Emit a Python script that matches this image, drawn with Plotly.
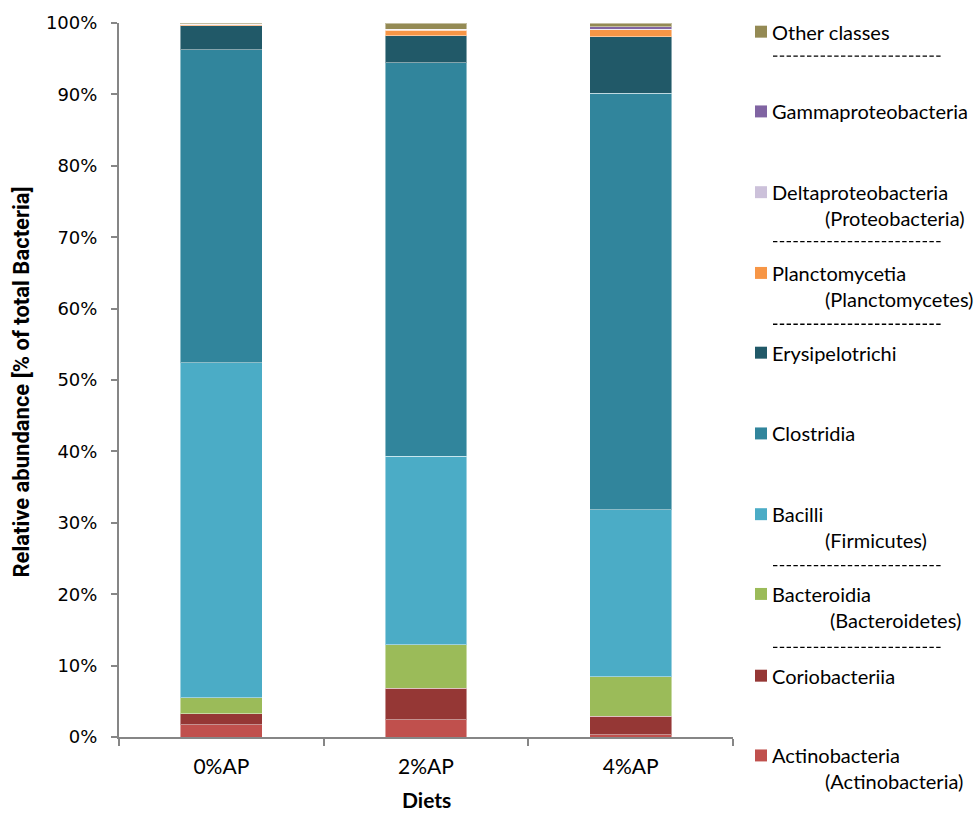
import plotly.graph_objects as go

# Diet groups on the x axis
diets = ["0%AP", "2%AP", "4%AP"]

# Relative abundance (% of total Bacteria) per class, stacked bottom to top
actinobacteria = [1.75, 2.44, 0.35]
coriobacteriia = [1.53, 4.37, 2.55]
bacteroidia = [2.19, 6.11, 5.55]
bacilli = [46.96, 26.43, 23.35]
clostridia = [43.84, 55.10, 58.33]
erysipelotrichi = [3.33, 3.75, 7.97]
planctomycetia = [0.15, 0.80, 0.95]
deltaproteobacteria = [0.05, 0.10, 0.05]
gammaproteobacteria = [0.05, 0.00, 0.35]
other_classes = [0.15, 0.90, 0.55]

y_ticks = [0, 10, 20, 30, 40, 50, 60, 70, 80, 90, 100]
y_tick_labels = [f"{v}%" for v in y_ticks]

series = [
    ("Actinobacteria", actinobacteria, "#C0504D"),
    ("Coriobacteriia", coriobacteriia, "#953735"),
    ("Bacteroidia", bacteroidia, "#9BBB59"),
    ("Bacilli", bacilli, "#4BACC6"),
    ("Clostridia", clostridia, "#31859C"),
    ("Erysipelotrichi", erysipelotrichi, "#215968"),
    ("Planctomycetia", planctomycetia, "#F79646"),
    ("Deltaproteobacteria", deltaproteobacteria, "#CCC1DA"),
    ("Gammaproteobacteria", gammaproteobacteria, "#8064A2"),
    ("Other classes", other_classes, "#948A54"),
]
colors = {name: c for name, _, c in series}

fig = go.Figure()
for name, vals, color in series:
    fig.add_trace(go.Bar(
        x=diets, y=vals, name=name, width=0.4,
        marker=dict(color=color, line=dict(color="rgba(255,255,255,0.45)", width=1)),
        showlegend=False,
    ))

# Plot area in pixels
W, H = 976, 814
L, R, T, B = 119, 733, 21.3, 737.5


def px(x, y):
    return (x - L) / (R - L), (B - y) / (B - T)


body_font = "Lato, 'Open Sans', sans-serif"
legend_size = 20

annotations = []
shapes = []

# Legend entries: (label, sublabel, row y, sublabel x)
legend_rows = [
    ("Other classes", None, 30, None),
    ("Gammaproteobacteria", None, 110, None),
    ("Deltaproteobacteria", "(Proteobacteria)", 191, 825),
    ("Planctomycetia", "(Planctomycetes)", 272, 825),
    ("Erysipelotrichi", None, 352, None),
    ("Clostridia", None, 433, None),
    ("Bacilli", "(Firmicutes)", 514, 825),
    ("Bacteroidia", "(Bacteroidetes)", 594, 830),
    ("Coriobacteriia", None, 676, None),
    ("Actinobacteria", "(Actinobacteria)", 756, 825),
]
# dashed rules separating the phylum groups
separator_rows = [54.5, 240.5, 323.5, 565.5, 647.5]

for label, sub, yc, subx in legend_rows:
    x0, y0 = px(755, yc - 6)
    x1, y1 = px(767, yc + 6)
    shapes.append(dict(type="rect", xref="paper", yref="paper",
                       x0=x0, x1=x1, y0=y1, y1=y0,
                       fillcolor=colors[label], line=dict(width=0)))
    ax, ay = px(770, yc)
    annotations.append(dict(x=ax, y=ay, xref="paper", yref="paper", text=label,
                            showarrow=False, xanchor="left", yanchor="middle",
                            font=dict(family=body_font, size=legend_size, color="#000000")))
    if sub:
        sx, sy = px(subx - 2, yc + 26)
        annotations.append(dict(x=sx, y=sy, xref="paper", yref="paper", text=sub,
                                showarrow=False, xanchor="left", yanchor="middle",
                                font=dict(family=body_font, size=legend_size, color="#000000")))

for yc in separator_rows:
    sx0, sy = px(773, yc)
    sx1, _ = px(941, yc)
    shapes.append(dict(type="line", xref="paper", yref="paper",
                       x0=sx0, x1=sx1, y0=sy, y1=sy,
                       line=dict(color="#000000", width=1.3, dash="4.4px,2.4px")))

# Axis titles
tx, ty = px(22, 382)
annotations.append(dict(x=tx, y=ty, xref="paper", yref="paper",
                        text="<b>Relative abundance [% of total Bacteria]</b>",
                        textangle=-90, showarrow=False, xanchor="center", yanchor="middle",
                        font=dict(family="Roboto, Lato, sans-serif", size=22, color="#000000")))
dx, dy = px(426, 800)
annotations.append(dict(x=dx, y=dy, xref="paper", yref="paper", text="<b>Diets</b>",
                        showarrow=False, xanchor="center", yanchor="middle",
                        font=dict(family=body_font, size=21, color="#000000")))

axis_gray = "#868686"

fig.update_layout(
    width=W, height=H,
    barmode="stack",
    paper_bgcolor="white", plot_bgcolor="white",
    margin=dict(l=L, r=W - R, t=T, b=H - B, pad=0),
    annotations=annotations,
    shapes=shapes,
    xaxis=dict(
        type="category", range=[-0.5, 2.5],
        showline=True, linecolor=axis_gray, linewidth=2,
        ticks="outside", tickson="boundaries", ticklen=7, tickwidth=2, tickcolor=axis_gray,
        ticklabelstandoff=10,
        tickfont=dict(family=body_font, size=21, color="#000000"),
        showgrid=False, zeroline=False,
    ),
    yaxis=dict(
        range=[0, 100], tickmode="array", tickvals=y_ticks, ticktext=y_tick_labels,
        showline=True, linecolor=axis_gray, linewidth=2,
        ticks="outside", ticklen=6, tickwidth=2, tickcolor=axis_gray,
        ticklabelstandoff=10,
        tickfont=dict(family="'DejaVu Sans', Verdana, sans-serif", size=18, color="#000000"),
        showgrid=False, zeroline=False,
    ),
)

fig.write_html("out.html")
